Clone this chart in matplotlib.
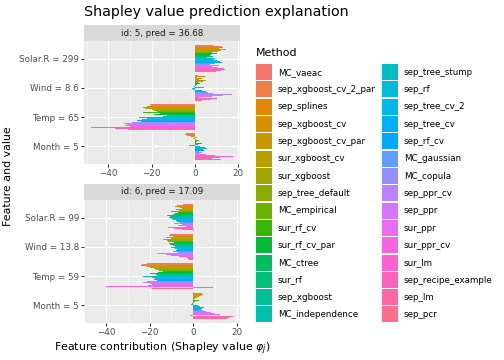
import numpy as np
import matplotlib
matplotlib.use("Agg")
import matplotlib.pyplot as plt
from matplotlib.patches import Patch

# methods in legend order (top of each bar group first)
methods = ["MC_vaeac", "sep_xgboost_cv_2_par", "sep_splines", "sep_xgboost_cv",
           "sep_xgboost_cv_par", "sur_xgboost_cv", "sur_xgboost", "sep_tree_default",
           "MC_empirical", "sur_rf_cv", "sur_rf_cv_par", "MC_ctree", "sur_rf",
           "sep_xgboost", "MC_independence", "sep_tree_stump", "sep_rf",
           "sep_tree_cv_2", "sep_tree_cv", "sep_rf_cv", "MC_gaussian", "MC_copula",
           "sep_ppr_cv", "sep_ppr", "sur_ppr", "sur_ppr_cv", "sur_lm",
           "sep_recipe_example", "sep_lm", "sep_pcr"]

strip_labels = ["id: 5, pred = 36.68", "id: 6, pred = 17.09"]
features_5 = ["Solar.R = 299", "Wind = 8.6", "Temp = 65", "Month = 5"]
features_6 = ["Solar.R = 99", "Wind = 13.8", "Temp = 59", "Month = 5"]

# id 5
solar_5 = [8.5, 12.5, 13.0, 11.0, 14.2, 12.0, 10.5, 9.0, 8.0, 10.2, 7.5, 6.8, 8.2, 5.5, 9.0,
           6.0, 8.5, 10.0, 11.5, 12.5, 9.0, 7.0, 11.0, 6.5, 8.0, 10.5, 13.5, 14.0, 12.0, 9.5]
wind_5 = [1.5, 2.0, 4.5, 1.0, 3.0, 2.0, 5.0, 3.5, 1.5, 7.5, 2.5, 1.0, 0.5, -0.5, 4.0,
          -1.5, -1.0, 1.0, 3.0, 5.0, 6.0, 8.5, 17.0, 13.0, 8.0, 2.0, 11.5, 10.0, 7.5, 3.0]
temp_5 = [-21.0, -20.5, -22.0, -27.5, -24.0, -23.0, -20.0, -19.0, -17.5, -24.0, -16.0, -19.0,
          -21.0, -13.0, -15.0, -26.0, -22.0, -24.5, -27.0, -25.0, -32.0, -29.0, -33.0, -31.5,
          -32.5, -30.0, -48.0, -37.0, -33.0, -31.0]
month_5 = [-4.0, -4.5, -3.5, -2.0, 1.0, -1.0, 1.5, 0.5, 2.0, 1.0, 0.5, 3.0, 1.5, -3.0, -1.0,
           2.5, 4.5, 5.5, 3.5, 4.0, 2.0, 3.0, 4.5, 2.0, 5.0, 9.0, 17.5, 11.5, 8.0, 12.0]

# id 6
solar_6 = [-4.5, -7.5, -8.5, -6.0, -5.0, -8.0, -6.5, -9.0, -10.0, -7.0, -8.5, -9.5, -12.0,
           -10.5, -11.0, -9.0, -10.0, -9.5, -8.0, -7.5, -6.0, -9.0, -5.0, -4.0, -7.0, -3.5,
           -11.5, -9.0, -5.0, 0.5]
wind_6 = [-10.5, -13.0, -11.0, -9.5, -12.5, -10.0, -14.0, -12.0, -11.5, -10.5, -9.0, -11.0,
          -10.5, -9.5, -8.5, -10.0, -8.5, -9.0, -7.5, -8.0, -9.5, -7.0, -16.5, -12.5, -10.0,
          -6.5, -5.5, -3.0, -2.5, -2.0]
temp_6 = [-21.0, -23.5, -24.0, -22.5, -21.0, -20.0, -18.0, -17.0, -15.5, -14.0, -16.0, -20.0,
          -18.0, -17.0, -16.5, -23.0, -19.0, -17.5, -18.0, -16.5, -19.5, -21.0, -23.0, -20.0,
          -19.0, -20.5, -40.0, 9.0, -43.0, -19.0]
month_6 = [0.5, 4.0, 4.5, 3.5, 2.5, 1.5, 2.0, 1.0, 0.5, 2.5, 1.0, 0.5, -0.5, -1.0, 1.5,
           2.0, 3.0, 5.0, 4.0, 3.5, 4.5, 6.0, 7.0, 8.0, 9.5, 12.0, -1.5, 18.3, 16.5, 15.5]

panels = [(strip_labels[0], features_5, [solar_5, wind_5, temp_5, month_5]),
          (strip_labels[1], features_6, [solar_6, wind_6, temp_6, month_6])]


def hue_pal(n, l=65, c=100):
    # ggplot2 style hcl palette
    hues = np.linspace(15, 375, n + 1)[:n]
    Xn, Yn, Zn = 95.047, 100.0, 108.883
    un = 4 * Xn / (Xn + 15 * Yn + 3 * Zn)
    vn = 9 * Yn / (Xn + 15 * Yn + 3 * Zn)
    M = np.array([[3.2404542, -1.5371385, -0.4985314],
                  [-0.9692660, 1.8760108, 0.0415560],
                  [0.0556434, -0.2040259, 1.0572252]])
    out = []
    for h in hues:
        u = c * np.cos(np.radians(h))
        v = c * np.sin(np.radians(h))
        Y = Yn * ((l + 16) / 116) ** 3
        up = u / (13 * l) + un
        vp = v / (13 * l) + vn
        X = Y * 9 * up / (4 * vp)
        Z = Y * (12 - 3 * up - 20 * vp) / (4 * vp)
        rgb = M @ (np.array([X, Y, Z]) / 100)
        rgb = np.where(rgb <= 0.0031308, 12.92 * rgb, 1.055 * np.abs(rgb) ** (1 / 2.4) - 0.055)
        out.append(tuple(np.clip(rgb, 0, 1)))
    return out


colors = hue_pal(len(methods))

W, H = 504, 360
fig = plt.figure(figsize=(7, 5), dpi=72)
plt.rcParams['font.family'] = ['DejaVu Sans']
plt.rcParams['mathtext.fontset'] = 'dejavusans'


def box(x0, y0, x1, y1):
    return [x0 / W, 1 - y1 / H, (x1 - x0) / W, (y1 - y0) / H]


panel_px = [(84, 41, 240, 164), (84, 200, 240, 323)]
strip_h = 16
n = len(methods)
width = 0.9
bar_h = width / n

for (label, feats, vals), (x0, y0, x1, y1) in zip(panels, panel_px):
    ax = fig.add_axes(box(x0, y0, x1, y1))
    ax.set_facecolor("#EBEBEB")
    ypos = np.arange(len(feats))[::-1]
    for i in range(n):
        xs = [v[i] for v in vals]
        off = width / 2 - (i + 0.5) * bar_h
        ax.barh(ypos + off, xs, height=bar_h, color=colors[i], linewidth=0)
    allv = np.concatenate([np.array(v) for v in vals] + [[0]])
    lo, hi = allv.min(), allv.max()
    pad = 0.05 * (hi - lo)
    ax.set_xlim(lo - pad, hi + pad)
    ax.set_ylim(-0.6, len(feats) - 0.4)
    ax.set_xticks([-40, -20, 0, 20])
    ax.set_xticks([-50, -30, -10, 10], minor=True)
    ax.set_yticks(ypos)
    ax.set_yticklabels(feats)
    ax.grid(True, which="major", color="white", linewidth=1.07)
    ax.grid(True, which="minor", axis="x", color="white", linewidth=0.53)
    ax.set_axisbelow(True)
    for s in ax.spines.values():
        s.set_visible(False)
    ax.tick_params(which="major", length=2.75, width=1.07, color="#333333",
                   labelsize=8.8, labelcolor="#4D4D4D", pad=2.2)
    ax.tick_params(which="minor", length=0)
    # strip
    sax = fig.add_axes(box(x0, y0 - strip_h, x1, y0))
    sax.set_xticks([])
    sax.set_yticks([])
    sax.set_facecolor("#D9D9D9")
    for s in sax.spines.values():
        s.set_visible(False)
    sax.text(0.5, 0.5, label, ha="center", va="center", fontsize=8.8,
             color="#1A1A1A", transform=sax.transAxes)

fig.text(84 / W, 1 - 12 / H, "Shapley value prediction explanation", fontsize=14.3,
         ha="left", va="center")
fig.text(162 / W, 1 - 349 / H, r"Feature contribution (Shapley value $\varphi_j$)",
         fontsize=11, ha="center", va="center")
fig.text(8 / W, 1 - 176 / H, "Feature and value", fontsize=11, rotation=90,
         ha="center", va="center")

handles = [Patch(facecolor=c, edgecolor="none") for c in colors]
leg = fig.legend(handles, methods, loc="upper left", bbox_to_anchor=(256 / W, 1 - 48 / H),
                 ncol=2, frameon=False, fontsize=8.8, title="Method", title_fontsize=11,
                 handlelength=1.82, handleheight=2.42, labelspacing=0.15,
                 handletextpad=0.65, columnspacing=0.7, borderpad=0, borderaxespad=0,
                 alignment="left")
leg._legend_box.sep = 6

fig.savefig("out.png", dpi=72)
